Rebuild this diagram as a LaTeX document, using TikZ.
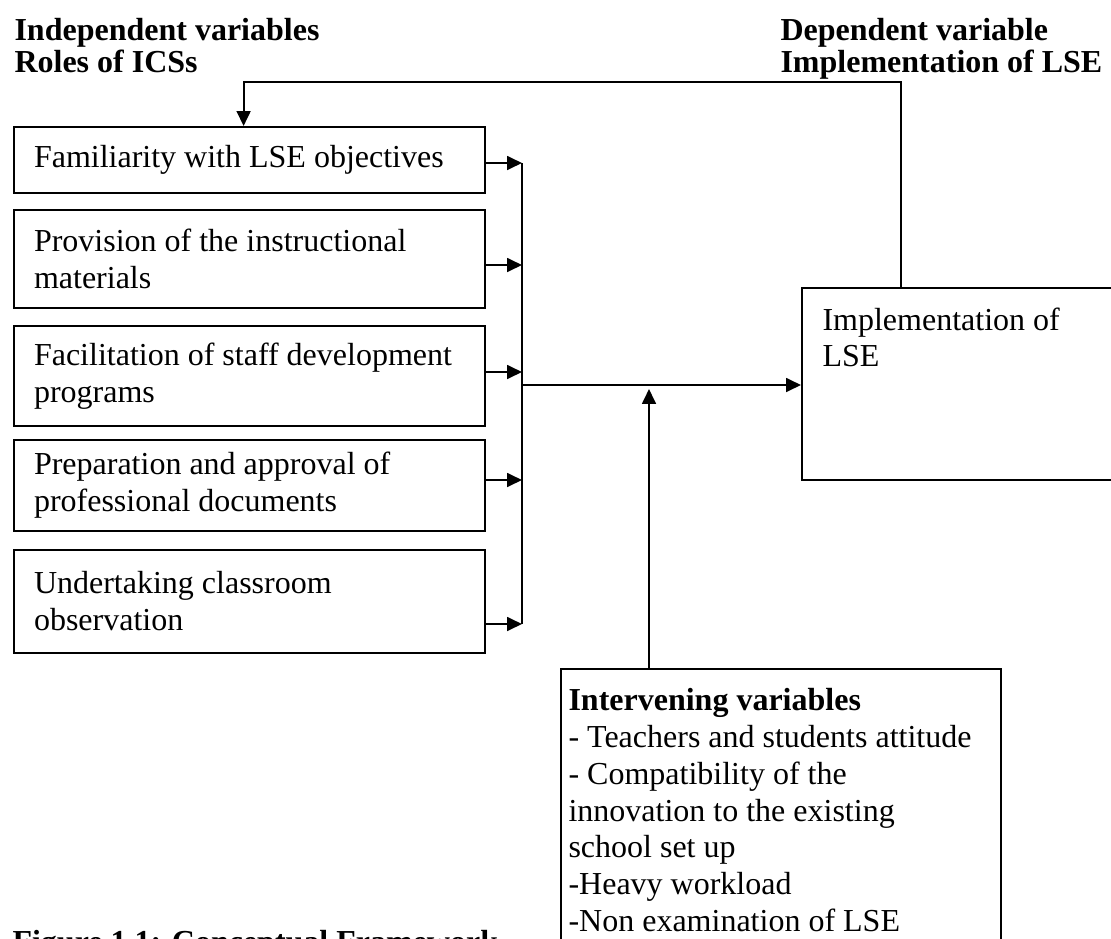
\documentclass[tikz,border=0pt]{standalone}
\usepackage{fontspec}
\setmainfont{Liberation Serif}
\usetikzlibrary{positioning, arrows.meta}

\begin{document}
\begin{tikzpicture}[
  x=0.375pt, y=-0.375pt,
  every node/.style={font=\fontsize{12}{13.8}\selectfont},
  role/.style={draw, line width=0.75pt, align=flush left, text width=161.6pt, inner xsep=7.5pt, inner ysep=0pt, minimum width=176.6pt},
  plain/.style={draw, line width=0.75pt, inner sep=0pt},
  head/.style={align=left, inner sep=0pt, font=\fontsize{12}{10.5}\selectfont\bfseries},
  arrow/.style={-{Triangle[length=5.6pt, width=5.2pt]}, line width=0.75pt},
  link/.style={line width=0.75pt}
]
\useasboundingbox (0,0) rectangle (1111,939);

% headings
\node[head, anchor=north west] (indep) at (14,18) {Independent variables\\Roles of ICSs};
\node[head, anchor=north west] (dep) at (780,18) {Dependent variable\\Implementation of LSE};

% roles of the ICSs
\node[role, minimum height=24.75pt, anchor=north west] (fam) at (13,126) {Familiarity with LSE objectives};
\node[role, minimum height=36.75pt, below=5.6pt of fam] (prov) {Provision of the instructional\\materials};
\node[role, minimum height=37.5pt, below=6pt of prov] (facil) {Facilitation of staff development\\programs};
\node[role, minimum height=34.1pt, below=4.5pt of facil] (prep) {Preparation and approval of\\professional documents};
\node[role, minimum height=38.6pt, below=6.4pt of prep] (obs) {Undertaking classroom\\observation};

% dependent variable
\node[plain, minimum width=119.6pt, minimum height=72pt, anchor=north west] (impl) at (801,287) {};
\node[anchor=north west, inner sep=0pt, align=left] (impltext) at ([shift={(21,20)}]impl.north west) {Implementation of\\LSE};

% intervening variables
\node[plain, minimum width=165pt, minimum height=117pt, anchor=north west] (interv) at (560,668) {};
\node[anchor=north west, inner sep=0pt, align=left] (intervtext) at ([shift={(8,20)}]interv.north west)
{\textbf{Intervening variables}\\- Teachers and students attitude\\- Compatibility of the\\innovation to the existing\\school set up\\-Heavy workload\\-Non examination of LSE};

\node[anchor=north west, inner sep=0pt, font=\fontsize{12}{13.8}\selectfont\bfseries] (caption) at (12,930) {Figure 1.1: Conceptual Framework};

% bus and joints
\coordinate (bus1) at (522,163);
\coordinate (bus2) at (522,265);
\coordinate (bus3) at (522,372);
\coordinate (bus4) at (522,480);
\coordinate (bus5) at (522,624);
\coordinate (join) at (522,385);
\coordinate (up) at (649,389);
\coordinate (fb) at (901,82);

\draw[arrow] (fam.east |- bus1) -- (bus1);
\draw[arrow] (prov.east |- bus2) -- (bus2);
\draw[arrow] (facil.east |- bus3) -- (bus3);
\draw[arrow] (prep.east |- bus4) -- (bus4);
\draw[arrow] (obs.east |- bus5) -- (bus5);
\draw[link] (bus1) -- (bus5);

\draw[arrow] (join) -- (impl.west |- join);
\draw[arrow] (interv.north -| up) -- (up);

% feedback to the roles
\draw[arrow] (impl.north -| fb) -- (fb) -| ([xshift=-2.2pt]fam.north);

\end{tikzpicture}
\end{document}
